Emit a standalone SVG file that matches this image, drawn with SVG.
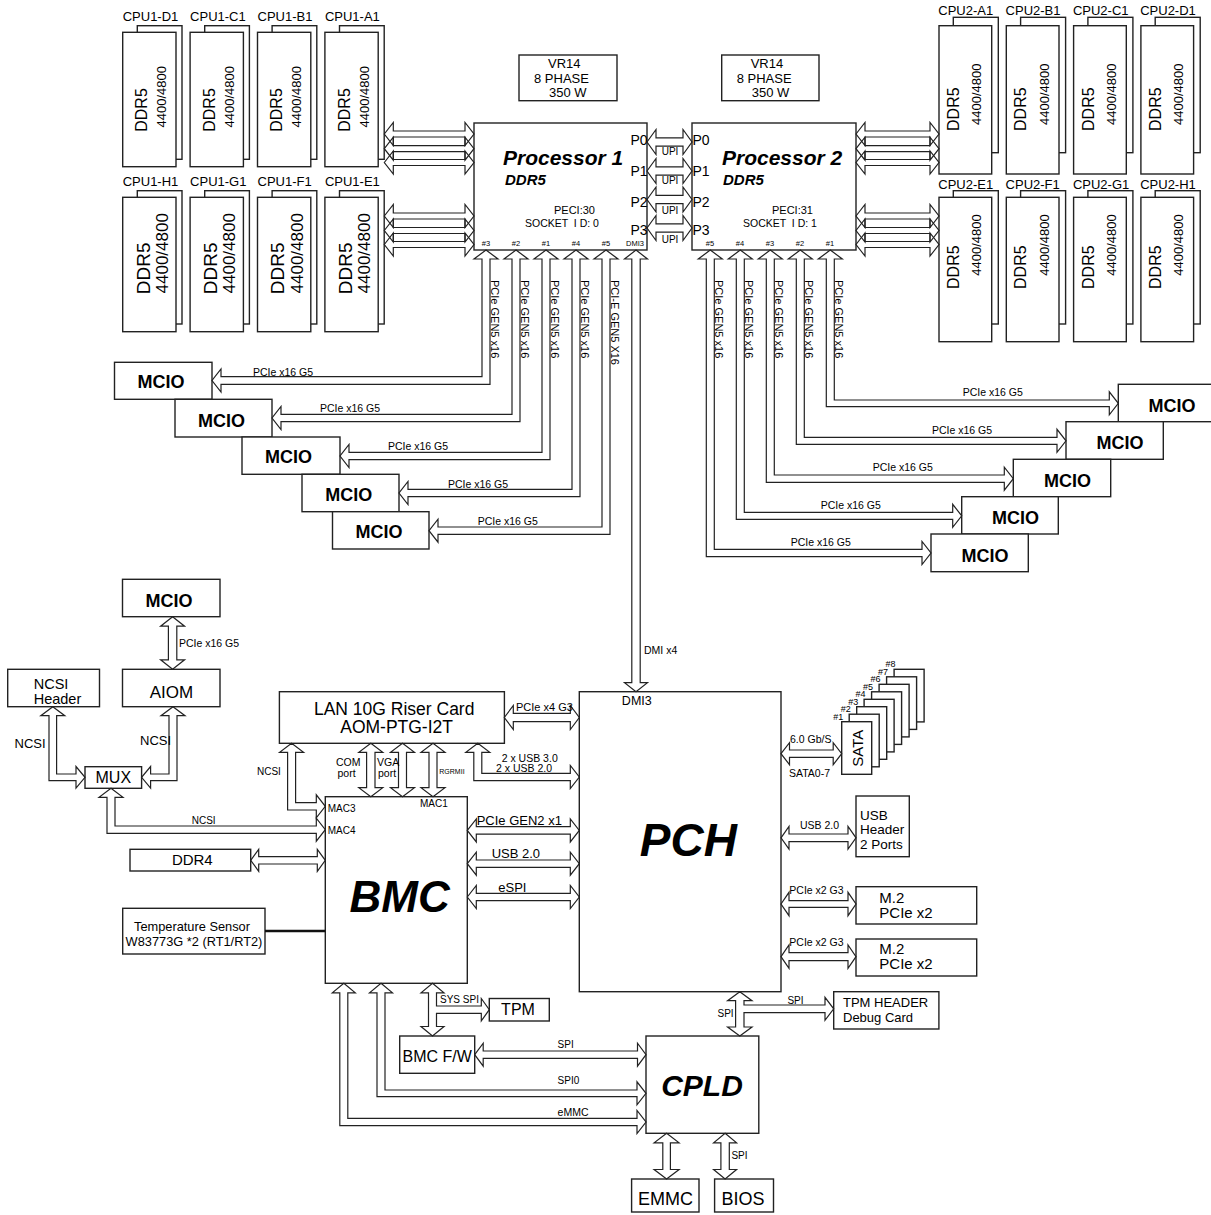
<svg xmlns="http://www.w3.org/2000/svg" width="1211" height="1215" viewBox="0 0 1211 1215">
<style>
.n{fill:#fff;stroke:#222;stroke-width:1.4}
.c polygon{fill:none;stroke:#222;stroke-width:1.2}
text{font-family:"Liberation Sans",Arial,Helvetica,sans-serif;fill:#000}
.bi{font-weight:bold;font-style:italic}
.b{font-weight:bold}
.m{text-anchor:middle}
.pre{white-space:pre}
.f7{font-size:7.5px}.f9{font-size:9px}.f10{font-size:10px}.f105{font-size:10.5px}.f11{font-size:11px}.f13{font-size:13px}.f14{font-size:14px}.f15{font-size:15px}.f16{font-size:16px}.f18{font-size:18px}
</style>
<rect x="0" y="0" width="1211" height="1215" fill="#fff"/>

<!-- CPU1 DIMMs -->
<g id="cpu1-d1"><text x="122.7" y="20.5" class="f13">CPU1-D1</text><rect class="n" x="137.3" y="25.7" width="44.7" height="133.6"/><rect class="n" x="122.7" y="32.3" width="53.3" height="134.4"/><text class="m f16" transform="translate(147.4,110) rotate(-90)">DDR5</text><text class="m f13" transform="translate(166.3,96.7) rotate(-90)">4400/4800</text></g>
<g id="cpu1-c1"><text x="190.1" y="20.5" class="f13">CPU1-C1</text><rect class="n" x="204.7" y="25.7" width="44.7" height="133.6"/><rect class="n" x="190.1" y="32.3" width="53.3" height="134.4"/><text class="m f16" transform="translate(214.8,110) rotate(-90)">DDR5</text><text class="m f13" transform="translate(233.7,96.7) rotate(-90)">4400/4800</text></g>
<g id="cpu1-b1"><text x="257.5" y="20.5" class="f13">CPU1-B1</text><rect class="n" x="272.1" y="25.7" width="44.7" height="133.6"/><rect class="n" x="257.5" y="32.3" width="53.3" height="134.4"/><text class="m f16" transform="translate(282.2,110) rotate(-90)">DDR5</text><text class="m f13" transform="translate(301.1,96.7) rotate(-90)">4400/4800</text></g>
<g id="cpu1-a1"><text x="324.9" y="20.5" class="f13">CPU1-A1</text><rect class="n" x="339.5" y="25.7" width="44.7" height="133.6"/><rect class="n" x="324.9" y="32.3" width="53.3" height="134.4"/><text class="m f16" transform="translate(349.6,110) rotate(-90)">DDR5</text><text class="m f13" transform="translate(368.5,96.7) rotate(-90)">4400/4800</text></g>
<g id="cpu1-h1"><text x="122.7" y="185.5" class="f13">CPU1-H1</text><rect class="n" x="137.3" y="190.7" width="44.7" height="133.3"/><rect class="n" x="122.7" y="197.3" width="53.3" height="134.4"/><text class="m" style="font-size:19px" transform="translate(149.5,268.3) rotate(-90)">DDR5</text><text class="m" style="font-size:17px" transform="translate(167.8,253.3) rotate(-90)">4400/4800</text></g>
<g id="cpu1-g1"><text x="190.1" y="185.5" class="f13">CPU1-G1</text><rect class="n" x="204.7" y="190.7" width="44.7" height="133.3"/><rect class="n" x="190.1" y="197.3" width="53.3" height="134.4"/><text class="m" style="font-size:19px" transform="translate(216.9,268.3) rotate(-90)">DDR5</text><text class="m" style="font-size:17px" transform="translate(235.2,253.3) rotate(-90)">4400/4800</text></g>
<g id="cpu1-f1"><text x="257.5" y="185.5" class="f13">CPU1-F1</text><rect class="n" x="272.1" y="190.7" width="44.7" height="133.3"/><rect class="n" x="257.5" y="197.3" width="53.3" height="134.4"/><text class="m" style="font-size:19px" transform="translate(284.3,268.3) rotate(-90)">DDR5</text><text class="m" style="font-size:17px" transform="translate(302.6,253.3) rotate(-90)">4400/4800</text></g>
<g id="cpu1-e1"><text x="324.9" y="185.5" class="f13">CPU1-E1</text><rect class="n" x="339.5" y="190.7" width="44.7" height="133.3"/><rect class="n" x="324.9" y="197.3" width="53.3" height="134.4"/><text class="m" style="font-size:19px" transform="translate(351.7,268.3) rotate(-90)">DDR5</text><text class="m" style="font-size:17px" transform="translate(370,253.3) rotate(-90)">4400/4800</text></g>

<!-- CPU2 DIMMs -->
<g id="cpu2-a1"><text x="938.3" y="14.5" class="f13">CPU2-A1</text><rect class="n" x="953.3" y="17.3" width="45" height="135.4"/><rect class="n" x="939" y="25.7" width="52.7" height="148.3"/><text class="m f16" transform="translate(959,109.2) rotate(-90)">DDR5</text><text class="m f13" transform="translate(981.4,94.2) rotate(-90)">4400/4800</text></g>
<g id="cpu2-b1"><text x="1005.6" y="14.5" class="f13">CPU2-B1</text><rect class="n" x="1020.6" y="17.3" width="45" height="135.4"/><rect class="n" x="1006.3" y="25.7" width="52.7" height="148.3"/><text class="m f16" transform="translate(1026.3,109.2) rotate(-90)">DDR5</text><text class="m f13" transform="translate(1048.7,94.2) rotate(-90)">4400/4800</text></g>
<g id="cpu2-c1"><text x="1072.9" y="14.5" class="f13">CPU2-C1</text><rect class="n" x="1087.9" y="17.3" width="45" height="135.4"/><rect class="n" x="1073.6" y="25.7" width="52.7" height="148.3"/><text class="m f16" transform="translate(1093.6,109.2) rotate(-90)">DDR5</text><text class="m f13" transform="translate(1116,94.2) rotate(-90)">4400/4800</text></g>
<g id="cpu2-d1"><text x="1140.2" y="14.5" class="f13">CPU2-D1</text><rect class="n" x="1155.2" y="17.3" width="45" height="135.4"/><rect class="n" x="1140.9" y="25.7" width="52.7" height="148.3"/><text class="m f16" transform="translate(1160.9,109.2) rotate(-90)">DDR5</text><text class="m f13" transform="translate(1183.3,94.2) rotate(-90)">4400/4800</text></g>
<g id="cpu2-e1"><text x="938.3" y="188.5" class="f13">CPU2-E1</text><rect class="n" x="953.3" y="190.7" width="45" height="133.3"/><rect class="n" x="939" y="197.3" width="52.7" height="144.4"/><text class="m f16" transform="translate(959,267.2) rotate(-90)">DDR5</text><text class="m f13" transform="translate(981.4,245) rotate(-90)">4400/4800</text></g>
<g id="cpu2-f1"><text x="1005.6" y="188.5" class="f13">CPU2-F1</text><rect class="n" x="1020.6" y="190.7" width="45" height="133.3"/><rect class="n" x="1006.3" y="197.3" width="52.7" height="144.4"/><text class="m f16" transform="translate(1026.3,267.2) rotate(-90)">DDR5</text><text class="m f13" transform="translate(1048.7,245) rotate(-90)">4400/4800</text></g>
<g id="cpu2-g1"><text x="1072.9" y="188.5" class="f13">CPU2-G1</text><rect class="n" x="1087.9" y="190.7" width="45" height="133.3"/><rect class="n" x="1073.6" y="197.3" width="52.7" height="144.4"/><text class="m f16" transform="translate(1093.6,267.2) rotate(-90)">DDR5</text><text class="m f13" transform="translate(1116,245) rotate(-90)">4400/4800</text></g>
<g id="cpu2-h1"><text x="1140.2" y="188.5" class="f13">CPU2-H1</text><rect class="n" x="1155.2" y="190.7" width="45" height="133.3"/><rect class="n" x="1140.9" y="197.3" width="52.7" height="144.4"/><text class="m f16" transform="translate(1160.9,267.2) rotate(-90)">DDR5</text><text class="m f13" transform="translate(1183.3,245) rotate(-90)">4400/4800</text></g>

<!-- VR -->
<g id="vr1"><rect class="n" x="519" y="55" width="98" height="45.7"/><text x="548" y="67.5" class="f13">VR14</text><text x="534" y="82.5" class="f13">8 PHASE</text><text x="549" y="97" class="f13">350 W</text></g>
<g id="vr2"><rect class="n" x="721.7" y="55" width="97.3" height="45.7"/><text x="750.7" y="67.5" class="f13">VR14</text><text x="736.7" y="82.5" class="f13">8 PHASE</text><text x="751.7" y="97" class="f13">350 W</text></g>

<!-- Processors -->
<g id="processor1"><rect class="n" x="474" y="123" width="173" height="127"/>
<text x="503" y="165" class="bi" style="font-size:21px">Processor 1</text>
<text x="505" y="185" class="bi f15">DDR5</text>
<text x="554" y="213.5" class="f11">PECI:30</text>
<text x="525" y="227" class="pre" style="font-size:10.5px">SOCKET  I D: 0</text>
<text x="630.5" y="145" class="f14">P0</text><text x="630.5" y="175.7" class="f14">P1</text><text x="630.5" y="206.7" class="f14">P2</text><text x="630.5" y="235" class="f14">P3</text>
<text x="486" y="245.5" class="m f7">#3</text><text x="516" y="245.5" class="m f7">#2</text><text x="546" y="245.5" class="m f7">#1</text><text x="576" y="245.5" class="m f7">#4</text><text x="606" y="245.5" class="m f7">#5</text><text x="635" y="245.5" class="m f7">DMI3</text>
</g>
<g id="processor2"><rect class="n" x="692" y="123" width="164" height="127"/>
<text x="722" y="165" class="bi" style="font-size:21px">Processor 2</text>
<text x="723" y="185" class="bi f15">DDR5</text>
<text x="772" y="213.5" class="f11">PECI:31</text>
<text x="743" y="227" class="pre" style="font-size:10.5px">SOCKET  I D: 1</text>
<text x="692.5" y="145" class="f14">P0</text><text x="692.5" y="175.7" class="f14">P1</text><text x="692.5" y="206.7" class="f14">P2</text><text x="692.5" y="235" class="f14">P3</text>
<text x="710" y="245.5" class="m f7">#5</text><text x="740" y="245.5" class="m f7">#4</text><text x="770" y="245.5" class="m f7">#3</text><text x="800" y="245.5" class="m f7">#2</text><text x="830" y="245.5" class="m f7">#1</text>
</g>

<!-- MCIO left -->
<g id="mcio-l1"><rect class="n" x="114.5" y="362.3" width="97.5" height="37"/><text x="161" y="387.5" class="m b f18">MCIO</text></g>
<g id="mcio-l2"><rect class="n" x="175" y="399.3" width="97" height="37.7"/><text x="221.4" y="426.5" class="m b f18">MCIO</text></g>
<g id="mcio-l3"><rect class="n" x="242" y="437" width="98" height="37.3"/><text x="288.5" y="463" class="m b f18">MCIO</text></g>
<g id="mcio-l4"><rect class="n" x="302" y="474.3" width="97" height="37.4"/><text x="348.7" y="500.5" class="m b f18">MCIO</text></g>
<g id="mcio-l5"><rect class="n" x="332.5" y="511.7" width="96.5" height="37.3"/><text x="379" y="538" class="m b f18">MCIO</text></g>
<!-- MCIO right -->
<g id="mcio-r1"><rect class="n" x="1118.3" y="384.3" width="97.3" height="37.4"/><text x="1172" y="412" class="m b f18">MCIO</text></g>
<g id="mcio-r2"><rect class="n" x="1066" y="421.7" width="97.3" height="37.6"/><text x="1120" y="449" class="m b f18">MCIO</text></g>
<g id="mcio-r3"><rect class="n" x="1013.3" y="459.3" width="97.4" height="37.4"/><text x="1067.5" y="486.5" class="m b f18">MCIO</text></g>
<g id="mcio-r4"><rect class="n" x="961.7" y="496.7" width="96.6" height="37.3"/><text x="1015.5" y="523.7" class="m b f18">MCIO</text></g>
<g id="mcio-r5"><rect class="n" x="931" y="534" width="97.3" height="37.7"/><text x="985" y="561.5" class="m b f18">MCIO</text></g>

<!-- Left middle -->
<g id="mcio-aiom"><rect class="n" x="122.5" y="579.3" width="97.5" height="37.4"/><text x="169" y="606.5" class="m b f18">MCIO</text></g>
<g id="aiom"><rect class="n" x="122.5" y="669.3" width="97.5" height="37.4"/><text x="171.5" y="697.7" class="m" style="font-size:17px">AIOM</text></g>
<g id="ncsi-header"><rect class="n" x="7.7" y="669.3" width="91.8" height="37.4"/><text x="33.7" y="689" style="font-size:14.5px">NCSI</text><text x="33.7" y="703.5" style="font-size:14.5px">Header</text></g>
<g id="mux"><rect class="n" x="85" y="766.7" width="56.6" height="21.6"/><text x="113.3" y="783" class="m f16">MUX</text></g>
<g id="lan"><rect class="n" x="279.4" y="691.7" width="225" height="51.6"/><text x="394.2" y="715" class="m" style="font-size:17.5px">LAN 10G Riser Card</text><text x="396.6" y="733" class="m" style="font-size:17.5px">AOM-PTG-I2T</text></g>
<g id="ddr4"><rect class="n" x="130" y="849.3" width="120.7" height="21.7"/><text x="192.3" y="865" class="m f15">DDR4</text></g>
<g id="temp-sensor"><rect class="n" x="122.7" y="908.3" width="142.3" height="45.7"/><text x="192" y="930.5" class="m" style="font-size:12.8px">Temperature Sensor</text><text x="194" y="945.5" class="m" style="font-size:12.8px">W83773G *2 (RT1/RT2)</text></g>
<g id="bmc"><rect class="n" x="325.3" y="796.7" width="142" height="186.6"/><text x="399.7" y="912.4" class="m bi" style="font-size:44px">BMC</text>
<text x="327.7" y="811.8" class="f10">MAC3</text><text x="327.7" y="834.2" class="f10">MAC4</text><text x="420" y="806.8" class="f10">MAC1</text></g>
<g id="tpm"><rect class="n" x="489.3" y="998.5" width="60" height="22.5"/><text x="518" y="1015.2" class="m f16">TPM</text></g>
<g id="bmc-fw"><rect class="n" x="399.7" y="1036" width="75" height="37.3"/><text x="437.2" y="1062.4" class="m f16">BMC F/W</text></g>
<g id="cpld"><rect class="n" x="646" y="1036" width="112.8" height="97.3"/><text x="702" y="1095.7" class="m bi" style="font-size:30px">CPLD</text></g>
<g id="emmc"><rect class="n" x="631.6" y="1179" width="67.4" height="33"/><text x="665.5" y="1204.7" class="m f18">EMMC</text></g>
<g id="bios"><rect class="n" x="714.6" y="1179" width="58.9" height="33"/><text x="743" y="1204.7" class="m f18">BIOS</text></g>
<g id="tpm-header"><rect class="n" x="833.7" y="991.7" width="105.2" height="37.3"/><text x="843" y="1007" class="f13">TPM HEADER</text><text x="843" y="1022" class="f13">Debug Card</text></g>
<g id="pch"><rect class="n" x="579.3" y="691.7" width="201.7" height="300"/><text x="636.8" y="705.2" class="m" style="font-size:12.5px">DMI3</text><text x="688.3" y="856" class="m bi" style="font-size:46px">PCH</text></g>
<g id="sata">
<rect class="n" x="894.1" y="669.3" width="30" height="52.6"/>
<rect class="n" x="886.6" y="676.8" width="30" height="52.6"/>
<rect class="n" x="879.1" y="684.3" width="30" height="52.6"/>
<rect class="n" x="871.6" y="691.8" width="30" height="52.6"/>
<rect class="n" x="864.1" y="699.3" width="30" height="52.6"/>
<rect class="n" x="856.7" y="706.7" width="30" height="52.6"/>
<rect class="n" x="849.2" y="714.2" width="30" height="52.6"/>
<rect class="n" x="841.7" y="721.7" width="30" height="52.6"/>
<text class="m f15" transform="translate(862.7,748.3) rotate(-90)">SATA</text>
<text x="885.6" y="667.1" class="f9">#8</text><text x="878.1" y="674.6" class="f9">#7</text><text x="870.6" y="682.1" class="f9">#6</text><text x="863.1" y="689.6" class="f9">#5</text><text x="855.6" y="697.1" class="f9">#4</text><text x="848.2" y="704.5" class="f9">#3</text><text x="840.7" y="712" class="f9">#2</text><text x="833.2" y="719.5" class="f9">#1</text>
</g>
<g id="usb-header"><rect class="n" x="856" y="796" width="53.3" height="60.7"/><text x="860" y="820" style="font-size:13.5px">USB</text><text x="860" y="834.3" style="font-size:13.5px">Header</text><text x="860" y="848.5" style="font-size:13.5px">2 Ports</text></g>
<g id="m2-1"><rect class="n" x="856" y="886.7" width="120.7" height="37.3"/><text x="879.3" y="902.5" class="f15">M.2</text><text x="879.3" y="917.5" class="f15">PCIe x2</text></g>
<g id="m2-2"><rect class="n" x="856" y="939" width="120.7" height="37"/><text x="879.3" y="954.3" class="f15">M.2</text><text x="879.3" y="969.2" class="f15">PCIe x2</text></g>

<!-- Connectors -->
<g id="connectors" class="c">
<polygon points="384.3,134 393.3,122.5 393.3,131 465,131 465,122.5 474,134 465,145.5 465,137 393.3,137 393.3,145.5"/>
<polygon points="384.3,148.7 393.3,137.2 393.3,145.7 465,145.7 465,137.2 474,148.7 465,160.2 465,151.7 393.3,151.7 393.3,160.2"/>
<polygon points="384.3,162.5 393.3,151 393.3,159.5 465,159.5 465,151 474,162.5 465,174 465,165.5 393.3,165.5 393.3,174"/>
<polygon points="384.3,216 393.3,204.5 393.3,213 465,213 465,204.5 474,216 465,227.5 465,219 393.3,219 393.3,227.5"/>
<polygon points="384.3,230.5 393.3,219 393.3,227.5 465,227.5 465,219 474,230.5 465,242 465,233.5 393.3,233.5 393.3,242"/>
<polygon points="384.3,244.5 393.3,233 393.3,241.5 465,241.5 465,233 474,244.5 465,256 465,247.5 393.3,247.5 393.3,256"/>
<polygon points="856,134 865,122.5 865,131 930,131 930,122.5 939,134 930,145.5 930,137 865,137 865,145.5"/>
<polygon points="856,148.7 865,137.2 865,145.7 930,145.7 930,137.2 939,148.7 930,160.2 930,151.7 865,151.7 865,160.2"/>
<polygon points="856,162.5 865,151 865,159.5 930,159.5 930,151 939,162.5 930,174 930,165.5 865,165.5 865,174"/>
<polygon points="856,216 865,204.5 865,213 930,213 930,204.5 939,216 930,227.5 930,219 865,219 865,227.5"/>
<polygon points="856,230.5 865,219 865,227.5 930,227.5 930,219 939,230.5 930,242 930,233.5 865,233.5 865,242"/>
<polygon points="856,244.5 865,233 865,241.5 930,241.5 930,233 939,244.5 930,256 930,247.5 865,247.5 865,256"/>
<polygon points="647,142 656,129.5 656,137.8 683,137.8 683,129.5 692,142 683,154.5 683,146.2 656,146.2 656,154.5"/>
<polygon points="647,171 656,158.5 656,166.8 683,166.8 683,158.5 692,171 683,183.5 683,175.2 656,175.2 656,183.5"/>
<polygon points="647,199.5 656,187 656,195.3 683,195.3 683,187 692,199.5 683,212 683,203.7 656,203.7 656,212"/>
<polygon points="647,228 656,215.5 656,223.8 683,223.8 683,215.5 692,228 683,240.5 683,232.2 656,232.2 656,240.5"/>
<polygon points="486,250 498,259 490,259 490,384.3 221,384.3 221,392 212,380.5 221,369 221,376.7 482,376.7 482,259 474,259"/>
<polygon points="516,250 528,259 520,259 520,421.7 281,421.7 281,429.5 272,418 281,406.5 281,414.3 512,414.3 512,259 504,259"/>
<polygon points="546,250 558,259 550,259 550,459.7 349,459.7 349,467.5 340,456 349,444.5 349,452.3 542,452.3 542,259 534,259"/>
<polygon points="576,250 588,259 580,259 580,496.7 408,496.7 408,504.5 399,493 408,481.5 408,489.3 572,489.3 572,259 564,259"/>
<polygon points="606,250 618,259 610,259 610,534.3 438,534.3 438,542.2 429,530.7 438,519.2 438,527 602,527 602,259 594,259"/>
<polygon points="636,250 647.5,259 640.2,259 640.2,682.7 647.5,682.7 636,691.7 624.5,682.7 631.8,682.7 631.8,259 624.5,259"/>
<polygon points="830.3,250 842.3,259 834.3,259 834.3,400 1109.3,400 1109.3,391.8 1118.3,403.3 1109.3,414.8 1109.3,406.7 826.3,406.7 826.3,259 818.3,259"/>
<polygon points="800.3,250 812.3,259 804.3,259 804.3,437.3 1057,437.3 1057,429.3 1066,440.8 1057,452.3 1057,444.3 796.3,444.3 796.3,259 788.3,259"/>
<polygon points="770.3,250 782.3,259 774.3,259 774.3,475 1004.3,475 1004.3,467.2 1013.3,478.7 1004.3,490.2 1004.3,482.3 766.3,482.3 766.3,259 758.3,259"/>
<polygon points="740.3,250 752.3,259 744.3,259 744.3,512.3 952.7,512.3 952.7,504.3 961.7,515.8 952.7,527.3 952.7,519.3 736.3,519.3 736.3,259 728.3,259"/>
<polygon points="710.3,250 722.3,259 714.3,259 714.3,549.3 922,549.3 922,541.5 931,553 922,564.5 922,556.7 706.3,556.7 706.3,259 698.3,259"/>
<polygon points="172.6,616.7 184.6,626.2 176.8,626.2 176.8,659.8 184.6,659.8 172.6,669.3 160.6,659.8 168.4,659.8 168.4,626.2 160.6,626.2"/>
<polygon points="52.8,706.7 64.8,715.7 56.6,715.7 56.6,774 76,774 76,766.5 85,777.3 76,788.1 76,780.7 49,780.7 49,715.7 40.8,715.7"/>
<polygon points="173,706.7 185,715.7 177,715.7 177,780.7 150.6,780.7 150.6,788.1 141.6,777.3 150.6,766.5 150.6,774 169,774 169,715.7 161,715.7"/>
<polygon points="111,788.3 123,797.3 115,797.3 115,826 316.3,826 316.3,818.2 325.3,829.7 316.3,841.2 316.3,833.3 107,833.3 107,797.3 99,797.3"/>
<polygon points="291.6,743.3 303.6,752.3 295.6,752.3 295.6,802.7 316.3,802.7 316.3,794.8 325.3,806.3 316.3,817.8 316.3,810 287.6,810 287.6,752.3 279.6,752.3"/>
<polygon points="370.8,743.3 382.8,752.3 375,752.3 375,787.7 382.8,787.7 370.8,796.7 358.8,787.7 366.6,787.7 366.6,752.3 358.8,752.3"/>
<polygon points="402.5,743.3 414.5,752.3 406.5,752.3 406.5,787.7 414.5,787.7 402.5,796.7 390.5,787.7 398.5,787.7 398.5,752.3 390.5,752.3"/>
<polygon points="433,743.3 445,752.3 437,752.3 437,787.7 445,787.7 433,796.7 421,787.7 429,787.7 429,752.3 421,752.3"/>
<polygon points="477.8,743.3 489.8,752.3 481.8,752.3 481.8,773.3 570.3,773.3 570.3,765.5 579.3,777 570.3,788.5 570.3,780.7 473.8,780.7 473.8,752.3 465.8,752.3"/>
<polygon points="504.3,717.5 513.3,705.5 513.3,713.3 570.3,713.3 570.3,705.5 579.3,717.5 570.3,729.5 570.3,721.7 513.3,721.7 513.3,729.5"/>
<polygon points="467.3,830.4 476.3,818.9 476.3,826.7 570.3,826.7 570.3,818.9 579.3,830.4 570.3,841.9 570.3,834.1 476.3,834.1 476.3,841.9"/>
<polygon points="467.3,863.7 476.3,852.2 476.3,860 570.3,860 570.3,852.2 579.3,863.7 570.3,875.2 570.3,867.4 476.3,867.4 476.3,875.2"/>
<polygon points="467.3,897 476.3,885.5 476.3,893.3 570.3,893.3 570.3,885.5 579.3,897 570.3,908.5 570.3,900.7 476.3,900.7 476.3,908.5"/>
<polygon points="250.7,860.3 258.7,849.3 258.7,856.6 317.3,856.6 317.3,849.3 325.3,860.3 317.3,871.3 317.3,864 258.7,864 258.7,871.3"/>
<line x1="265" y1="931" x2="325.3" y2="931" stroke="#111" stroke-width="2.5"/>
<polygon points="343.8,983.3 355.3,992.8 347.8,992.8 347.8,1118.3 637,1118.3 637,1110.5 646,1122 637,1133.5 637,1125.7 339.8,1125.7 339.8,992.8 332.3,992.8"/>
<polygon points="381,983.3 392.5,992.8 385,992.8 385,1090 637,1090 637,1081.8 646,1093.3 637,1104.8 637,1096.7 377,1096.7 377,992.8 369.5,992.8"/>
<polygon points="432.5,983.3 444,992.8 436.5,992.8 436.5,1006 481.3,1006 481.3,998.5 489.3,1009.7 481.3,1020.9 481.3,1013.3 436.5,1013.3 436.5,1026.5 444,1026.5 432.5,1036 421,1026.5 428.5,1026.5 428.5,992.8 421,992.8"/>
<polygon points="474.7,1054.7 483.2,1043.2 483.2,1051 637.5,1051 637.5,1043.2 646,1054.7 637.5,1066.2 637.5,1058.4 483.2,1058.4 483.2,1066.2"/>
<polygon points="739.8,991.7 752,1000.7 744,1000.7 744,1005 825,1005 825,997.3 833.7,1008.8 825,1020.3 825,1012.7 744,1012.7 744,1027 752,1027 739.8,1036 727.6,1027 735.6,1027 735.6,1000.7 727.6,1000.7"/>
<polygon points="666.6,1133.3 679.1,1142.8 670.4,1142.8 670.4,1169.5 679.1,1169.5 666.6,1179 654.1,1169.5 662.8,1169.5 662.8,1142.8 654.1,1142.8"/>
<polygon points="725.1,1133.3 736.6,1142.8 729.3,1142.8 729.3,1169.5 736.6,1169.5 725.1,1179 713.6,1169.5 720.9,1169.5 720.9,1142.8 713.6,1142.8"/>
<polygon points="781,753.7 789.5,742.7 789.5,750 833.2,750 833.2,742.7 841.7,753.7 833.2,764.7 833.2,757.4 789.5,757.4 789.5,764.7"/>
<polygon points="781,837.8 789,826.5 789,834 848,834 848,826.5 856,837.8 848,849.1 848,841.6 789,841.6 789,849.1"/>
<polygon points="781,904 789,892.3 789,900.7 848,900.7 848,892.3 856,904 848,915.7 848,907.3 789,907.3 789,915.7"/>
<polygon points="781,956.7 789,945 789,952.7 848,952.7 848,945 856,956.7 848,968.4 848,960.7 789,960.7 789,968.4"/>
</g>

<!-- Connector labels -->
<g id="connector-labels">
<text x="670" y="155.2" class="m f10">UPI</text><text x="670" y="184.2" class="m f10">UPI</text><text x="670" y="213.5" class="m f10">UPI</text><text x="670" y="242.8" class="m f10">UPI</text>
<text class="f11" transform="translate(490.5,280) rotate(90)">PCIe GEN5 x16</text>
<text class="f11" transform="translate(520.5,280) rotate(90)">PCIe GEN5 x16</text>
<text class="f11" transform="translate(550.5,280) rotate(90)">PCIe GEN5 x16</text>
<text class="f11" transform="translate(580.5,280) rotate(90)">PCIe GEN5 x16</text>
<text class="f11" transform="translate(610.5,280) rotate(90)">PCI-E GEN5 X16</text>
<text class="f11" transform="translate(714.5,280) rotate(90)">PCIe GEN5 x16</text>
<text class="f11" transform="translate(744.5,280) rotate(90)">PCIe GEN5 x16</text>
<text class="f11" transform="translate(774.5,280) rotate(90)">PCIe GEN5 x16</text>
<text class="f11" transform="translate(804.5,280) rotate(90)">PCIe GEN5 x16</text>
<text class="f11" transform="translate(834.5,280) rotate(90)">PCIe GEN5 x16</text>
<text x="253" y="375.5" class="f105">PCIe x16 G5</text>
<text x="320" y="412" class="f105">PCIe x16 G5</text>
<text x="388" y="450" class="f105">PCIe x16 G5</text>
<text x="448" y="487.5" class="f105">PCIe x16 G5</text>
<text x="477.7" y="525" class="f105">PCIe x16 G5</text>
<text x="962.7" y="396" class="f105">PCIe x16 G5</text>
<text x="932" y="433.7" class="f105">PCIe x16 G5</text>
<text x="872.7" y="471" class="f105">PCIe x16 G5</text>
<text x="820.7" y="508.7" class="f105">PCIe x16 G5</text>
<text x="790.7" y="545.5" class="f105">PCIe x16 G5</text>
<text x="644" y="653.7" class="f105">DMI x4</text>
<text x="179" y="647" class="f105">PCIe x16 G5</text>
<text x="14.5" y="748" class="f13">NCSI</text>
<text x="140" y="744.6" class="f13">NCSI</text>
<text x="191.7" y="824.2" class="f10">NCSI</text>
<text x="257" y="774.5" class="f10">NCSI</text>
<text x="336" y="765.5" class="f105">COM</text><text x="337.5" y="776.5" class="f105">port</text>
<text x="377" y="765.5" class="f105">VGA</text><text x="378" y="776.5" class="f105">port</text>
<text x="439.3" y="774.2" style="font-size:7px">RGRMII</text>
<text x="516" y="711.3" class="f11">PCIe x4 G3</text>
<text x="501.7" y="761.5" class="f105">2 x USB 3.0</text>
<text x="496" y="772" class="f105">2 x USB 2.0</text>
<text x="476.7" y="825.4" class="f13">PCIe GEN2 x1</text>
<text x="491.7" y="857.6" class="f13">USB 2.0</text>
<text x="498.3" y="891.8" class="f13">eSPI</text>
<text x="440" y="1002.8" class="f10">SYS SPI</text>
<text x="557.6" y="1047.8" class="f10">SPI</text>
<text x="557.6" y="1084.2" class="f10">SPI0</text>
<text x="557.6" y="1116.2" style="font-size:10.5px">eMMC</text>
<text x="717.5" y="1016.8" class="f10">SPI</text>
<text x="787.4" y="1004.2" class="f10">SPI</text>
<text x="731.4" y="1158.5" class="f10">SPI</text>
<text x="790" y="743" class="f105">6.0 Gb/S</text>
<text x="789" y="777" class="f105">SATA0-7</text>
<text x="800" y="828.8" class="f105">USB 2.0</text>
<text x="789.3" y="893.8" class="f105">PCIe x2 G3</text>
<text x="789.3" y="946.1" class="f105">PCIe x2 G3</text>
</g>
</svg>
